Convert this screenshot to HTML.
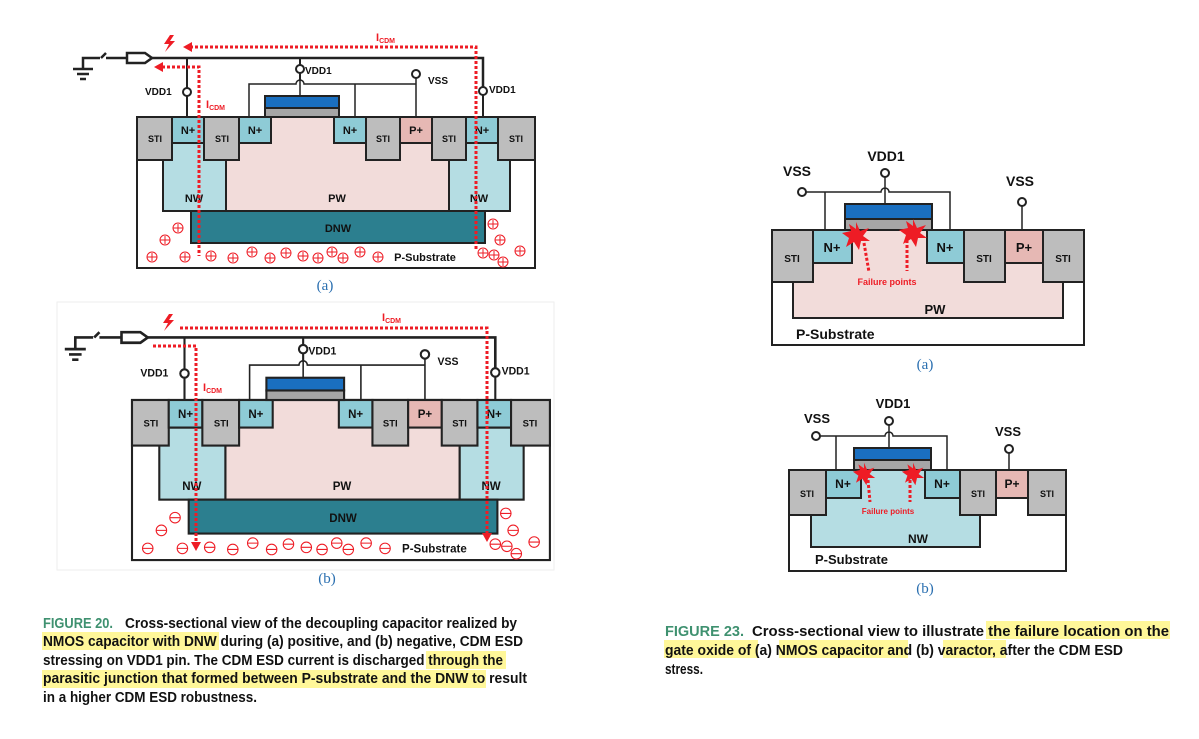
<!DOCTYPE html>
<html><head><meta charset="utf-8"><style>
html,body{margin:0;padding:0;background:#fff;}
svg{display:block;}
.lb{font-family:"Liberation Sans",sans-serif;font-weight:bold;fill:#111;}
.cap{font-family:"Liberation Sans",sans-serif;font-weight:800;font-size:14.5px;fill:#111;}
.fig{font-family:"Liberation Sans",sans-serif;font-weight:bold;font-size:14.5px;fill:#3f9170;}
.sub{font-family:"Liberation Serif",serif;font-size:15px;fill:#2a6fb0;}
.red{stroke:#ee1c25;stroke-width:3;stroke-dasharray:3 2;fill:none;}
</style></head><body>
<svg width="1199" height="739" viewBox="0 0 1199 739" xmlns="http://www.w3.org/2000/svg">
<defs>
<g id="dev" stroke="#222" stroke-width="2">
  <rect x="137" y="117" width="398" height="151" fill="#fff"/>
  <rect x="163" y="143" width="63" height="68" fill="#b5dde3"/>
  <rect x="449" y="143" width="61" height="68" fill="#b5dde3"/>
  <rect x="226" y="117" width="223" height="94" fill="#f2dcda"/>
  <rect x="191" y="211" width="294" height="32" fill="#2c7f8f"/>
  <rect x="137" y="117" width="35" height="43" fill="#bdbdbd"/>
  <rect x="172" y="117" width="32" height="26" fill="#8ecbd6"/>
  <rect x="204" y="117" width="35" height="43" fill="#bdbdbd"/>
  <rect x="239" y="117" width="32" height="26" fill="#8ecbd6"/>
  <rect x="334" y="117" width="32" height="26" fill="#8ecbd6"/>
  <rect x="366" y="117" width="34" height="43" fill="#bdbdbd"/>
  <rect x="400" y="117" width="32" height="26" fill="#e6b8b4"/>
  <rect x="432" y="117" width="34" height="43" fill="#bdbdbd"/>
  <rect x="466" y="117" width="32" height="26" fill="#8ecbd6"/>
  <rect x="498" y="117" width="37" height="43" fill="#bdbdbd"/>
  <rect x="265" y="108" width="74" height="9" fill="#a6a6a6"/>
  <rect x="265" y="96" width="74" height="12" fill="#1a6fc0"/>
  <g fill="none">
   <path d="M83 68V58H100M101 58L106 53M106 58H127" stroke-width="2.5"/>
   <path d="M73 69H93M77 74H89M80 79H86" stroke-width="2.5"/>
   <path d="M127 53H145L152 58L145 63H127Z" stroke-width="2.5"/>
   <path d="M152 58H483V87" stroke-width="2.5"/>
   <path d="M187 58V88M187 96V117M483 95V117"/>
   <circle cx="187" cy="92" r="4" fill="#fff"/>
   <circle cx="483" cy="91" r="4" fill="#fff"/>
   <path d="M300 58V65M300 73V80"/>
   <circle cx="300" cy="69" r="4" fill="#fff"/>
   <path d="M249 117V84H296A4 4 0 0 1 304 84H355V117M355 84H416V78M416 84V117M300 80V96" stroke-width="1.5"/>
   <circle cx="416" cy="74" r="4" fill="#fff"/>
  </g>
</g>
<g id="txt" class="lb">
  <text x="155" y="142" font-size="9" text-anchor="middle">STI</text>
  <text x="188" y="134" font-size="11" text-anchor="middle">N+</text>
  <text x="222" y="142" font-size="9" text-anchor="middle">STI</text>
  <text x="255" y="134" font-size="11" text-anchor="middle">N+</text>
  <text x="350" y="134" font-size="11" text-anchor="middle">N+</text>
  <text x="383" y="142" font-size="9" text-anchor="middle">STI</text>
  <text x="416" y="134" font-size="11" text-anchor="middle">P+</text>
  <text x="449" y="142" font-size="9" text-anchor="middle">STI</text>
  <text x="482" y="134" font-size="11" text-anchor="middle">N+</text>
  <text x="516" y="142" font-size="9" text-anchor="middle">STI</text>
  <text x="194" y="202" font-size="11" text-anchor="middle">NW</text>
  <text x="479" y="202" font-size="11" text-anchor="middle">NW</text>
  <text x="337" y="202" font-size="11" text-anchor="middle">PW</text>
  <text x="338" y="232" font-size="11" text-anchor="middle">DNW</text>
  <text x="425" y="261" font-size="11" text-anchor="middle">P-Substrate</text>
  <text x="305" y="74" font-size="10">VDD1</text>
  <text x="428" y="84" font-size="10">VSS</text>
  <text x="145" y="95" font-size="10">VDD1</text>
  <text x="489" y="93" font-size="10">VDD1</text>
</g>
</defs>

<use href="#dev"/>
<use href="#txt"/>
<g stroke="#ee1c25" fill="none" stroke-width="1">
<g id="ch">
<circle cx="178" cy="228" r="5"/><circle cx="165" cy="240" r="5"/><circle cx="152" cy="257" r="5"/><circle cx="185" cy="257" r="5"/><circle cx="211" cy="256" r="5"/><circle cx="233" cy="258" r="5"/><circle cx="252" cy="252" r="5"/><circle cx="270" cy="258" r="5"/><circle cx="286" cy="253" r="5"/><circle cx="303" cy="256" r="5"/><circle cx="318" cy="258" r="5"/><circle cx="332" cy="252" r="5"/><circle cx="343" cy="258" r="5"/><circle cx="360" cy="252" r="5"/><circle cx="378" cy="257" r="5"/><circle cx="493" cy="224" r="5"/><circle cx="500" cy="240" r="5"/><circle cx="494" cy="255" r="5"/><circle cx="483" cy="253" r="5"/><circle cx="520" cy="251" r="5"/><circle cx="503" cy="262" r="5"/>
</g>
<path d="M173 228h10M165 236v8M160 240h10M152 253v8M147 257h10M185 253v8M180 257h10M211 252v8M206 256h10M233 254v8M228 258h10M252 248v8M247 252h10M270 254v8M265 258h10M286 249v8M281 253h10M303 252v8M298 256h10M318 254v8M313 258h10M332 248v8M327 252h10M343 254v8M338 258h10M360 248v8M355 252h10M378 253v8M373 257h10M493 220v8M488 224h10M500 236v8M495 240h10M494 251v8M489 255h10M483 249v8M478 253h10M520 247v8M515 251h10M503 258v8M498 262h10M178 224v8"/>
</g>
<path class="red" d="M190 47H476V250"/>
<path d="M183 47l9-5v10z" fill="#ee1c25"/>
<path class="red" d="M162 67H199V256"/>
<path d="M154 67l9-5v10z" fill="#ee1c25"/>
<path d="M170 35l-6 9h5l-4 8 10-11h-5l4-6z" fill="#ee1c25"/>
<text x="376" y="41" font-family="Liberation Sans,sans-serif" font-weight="bold" font-size="11" fill="#ee1c25">I<tspan font-size="7" dy="2">CDM</tspan></text>
<text x="206" y="108" font-family="Liberation Sans,sans-serif" font-weight="bold" font-size="11" fill="#ee1c25">I<tspan font-size="7" dy="2">CDM</tspan></text>
<text x="325" y="290" class="sub" text-anchor="middle">(a)</text>

<rect x="57" y="302" width="497" height="268" fill="none" stroke="#eee"/>
<g transform="matrix(1.05,0,0,1.06,-11.85,275.98)">
<use href="#dev"/>
<use href="#txt"/>
<g stroke="#ee1c25" fill="none" stroke-width="1">
<use href="#ch"/>
<path d="M173 228h10M160 240h10M147 257h10M180 257h10M206 256h10M228 258h10M247 252h10M265 258h10M281 253h10M298 256h10M313 258h10M327 252h10M338 258h10M355 252h10M373 257h10M488 224h10M495 240h10M489 255h10M478 253h10M515 251h10M498 262h10"/>
</g>
</g>
<path class="red" d="M180 328H487V536"/>
<path d="M487 542l-5-9h10z" fill="#ee1c25"/>
<path class="red" d="M153 346H196V544"/>
<path d="M196 551l-5-9h10z" fill="#ee1c25"/>
<path d="M169 314l-6 9h5l-4 8 10-11h-5l4-6z" fill="#ee1c25"/>
<text x="382" y="321" font-family="Liberation Sans,sans-serif" font-weight="bold" font-size="11" fill="#ee1c25">I<tspan font-size="7" dy="2">CDM</tspan></text>
<text x="203" y="391" font-family="Liberation Sans,sans-serif" font-weight="bold" font-size="11" fill="#ee1c25">I<tspan font-size="7" dy="2">CDM</tspan></text>
<text x="327" y="583" class="sub" text-anchor="middle">(b)</text>

<g stroke="#222" stroke-width="2">
 <rect x="772" y="230" width="312" height="115" fill="#fff"/>
 <rect x="793" y="230" width="270" height="88" fill="#f2dcda"/>
 <rect x="772" y="230" width="41" height="52" fill="#bdbdbd"/>
 <rect x="813" y="230" width="39" height="33" fill="#8ecbd6"/>
 <rect x="927" y="230" width="37" height="33" fill="#8ecbd6"/>
 <rect x="964" y="230" width="41" height="52" fill="#bdbdbd"/>
 <rect x="1005" y="230" width="38" height="33" fill="#e6b8b4"/>
 <rect x="1043" y="230" width="41" height="52" fill="#bdbdbd"/>
 <rect x="845" y="219" width="87" height="11" fill="#a6a6a6"/>
 <rect x="845" y="204" width="87" height="15" fill="#1a6fc0"/>
 <path d="M806 192H881A4 4 0 0 1 889 192H950V230M825 192V230M885 177V204M1022 206V230" fill="none" stroke-width="1.5"/>
 <circle cx="802" cy="192" r="4" fill="#fff"/>
 <circle cx="885" cy="173" r="4" fill="#fff"/>
 <circle cx="1022" cy="202" r="4" fill="#fff"/>
</g>
<g class="lb">
 <text x="792" y="262" font-size="10" text-anchor="middle">STI</text>
 <text x="832" y="252" font-size="13" text-anchor="middle">N+</text>
 <text x="945" y="252" font-size="13" text-anchor="middle">N+</text>
 <text x="984" y="262" font-size="10" text-anchor="middle">STI</text>
 <text x="1024" y="252" font-size="13" text-anchor="middle">P+</text>
 <text x="1063" y="262" font-size="10" text-anchor="middle">STI</text>
 <text x="935" y="314" font-size="13" text-anchor="middle">PW</text>
 <text x="796" y="339" font-size="14">P-Substrate</text>
 <text x="886" y="161" font-size="14" text-anchor="middle">VDD1</text>
 <text x="797" y="176" font-size="14" text-anchor="middle">VSS</text>
 <text x="1020" y="186" font-size="14" text-anchor="middle">VSS</text>
</g>
<g fill="#ee1c25">
 <path id="star" d="M0-14L4-5 13-8 7 0 14 5 5 5 3 14-2 6-10 11-7 2-14-3-5-5-7-12 0-7Z" transform="translate(856,236)"/>
 <use href="#star" x="57" y="-3"/>
</g>
<path d="M864 243L869 272M907 240V271" stroke="#ee1c25" stroke-width="3" stroke-dasharray="3 2" fill="none"/>
<text x="887" y="285" font-family="Liberation Sans,sans-serif" font-weight="bold" font-size="9" fill="#ee1c25" text-anchor="middle">Failure points</text>
<text x="925" y="369" class="sub" text-anchor="middle">(a)</text>

<g stroke="#222" stroke-width="2">
 <rect x="789" y="470" width="277" height="101" fill="#fff"/>
 <rect x="811" y="470" width="169" height="77" fill="#b5dde3"/>
 <rect x="789" y="470" width="37" height="45" fill="#bdbdbd"/>
 <rect x="826" y="470" width="35" height="28" fill="#8ecbd6"/>
 <rect x="925" y="470" width="35" height="28" fill="#8ecbd6"/>
 <rect x="960" y="470" width="36" height="45" fill="#bdbdbd"/>
 <rect x="996" y="470" width="32" height="28" fill="#e6b8b4"/>
 <rect x="1028" y="470" width="38" height="45" fill="#bdbdbd"/>
 <rect x="854" y="460" width="77" height="10" fill="#a6a6a6"/>
 <rect x="854" y="448" width="77" height="12" fill="#1a6fc0"/>
 <path d="M820 436H885A4 4 0 0 1 893 436H947V470M836 436V470M889 425V448M1009 453V470" fill="none" stroke-width="1.5"/>
 <circle cx="816" cy="436" r="4" fill="#fff"/>
 <circle cx="889" cy="421" r="4" fill="#fff"/>
 <circle cx="1009" cy="449" r="4" fill="#fff"/>
</g>
<g class="lb">
 <text x="807" y="497" font-size="9" text-anchor="middle">STI</text>
 <text x="843" y="488" font-size="12" text-anchor="middle">N+</text>
 <text x="942" y="488" font-size="12" text-anchor="middle">N+</text>
 <text x="978" y="497" font-size="9" text-anchor="middle">STI</text>
 <text x="1012" y="488" font-size="12" text-anchor="middle">P+</text>
 <text x="1047" y="497" font-size="9" text-anchor="middle">STI</text>
 <text x="918" y="543" font-size="12" text-anchor="middle">NW</text>
 <text x="815" y="564" font-size="13">P-Substrate</text>
 <text x="893" y="408" font-size="13" text-anchor="middle">VDD1</text>
 <text x="817" y="423" font-size="13" text-anchor="middle">VSS</text>
 <text x="1008" y="436" font-size="13" text-anchor="middle">VSS</text>
</g>
<g fill="#ee1c25">
 <path d="M0-14L4-5 13-8 7 0 14 5 5 5 3 14-2 6-10 11-7 2-14-3-5-5-7-12 0-7Z" transform="translate(864,474) scale(0.8)"/>
 <path d="M0-14L4-5 13-8 7 0 14 5 5 5 3 14-2 6-10 11-7 2-14-3-5-5-7-12 0-7Z" transform="translate(913,474) scale(0.8)"/>
</g>
<path d="M868 480L870 502M910 480V502" stroke="#ee1c25" stroke-width="3" stroke-dasharray="3 2" fill="none"/>
<text x="888" y="514" font-family="Liberation Sans,sans-serif" font-weight="bold" font-size="8" fill="#ee1c25" text-anchor="middle">Failure points</text>
<text x="925" y="593" class="sub" text-anchor="middle">(b)</text>

<g fill="#fff799">
 <rect x="42" y="632" width="177" height="18"/>
 <rect x="426" y="651" width="80" height="18"/>
 <rect x="42" y="670" width="444" height="18"/>
 <rect x="986" y="621" width="184" height="18"/>
 <rect x="664" y="640" width="94" height="18"/>
 <rect x="779" y="640" width="129" height="18"/>
 <rect x="943" y="640" width="63" height="18"/>
</g>
<text x="43" y="628" class="fig" textLength="70" lengthAdjust="spacingAndGlyphs">FIGURE 20.</text>
<text x="125" y="628" class="cap" textLength="392" lengthAdjust="spacingAndGlyphs">Cross-sectional view of the decoupling capacitor realized by</text>
<text x="43" y="646" class="cap" textLength="480" lengthAdjust="spacingAndGlyphs">NMOS capacitor with DNW during (a) positive, and (b) negative, CDM ESD</text>
<text x="43" y="665" class="cap" textLength="460" lengthAdjust="spacingAndGlyphs">stressing on VDD1 pin. The CDM ESD current is discharged through the</text>
<text x="43" y="683" class="cap" textLength="484" lengthAdjust="spacingAndGlyphs">parasitic junction that formed between P-substrate and the DNW to result</text>
<text x="43" y="702" class="cap" textLength="214" lengthAdjust="spacingAndGlyphs">in a higher CDM ESD robustness.</text>
<text x="665" y="636" class="fig" textLength="79" lengthAdjust="spacingAndGlyphs">FIGURE 23.</text>
<text x="752" y="636" class="cap" textLength="417" lengthAdjust="spacingAndGlyphs">Cross-sectional view to illustrate the failure location on the</text>
<text x="665" y="655" class="cap" textLength="458" lengthAdjust="spacingAndGlyphs">gate oxide of (a) NMOS capacitor and (b) varactor, after the CDM ESD</text>
<text x="665" y="674" class="cap" textLength="38" lengthAdjust="spacingAndGlyphs">stress.</text>
</svg>
</body></html>
